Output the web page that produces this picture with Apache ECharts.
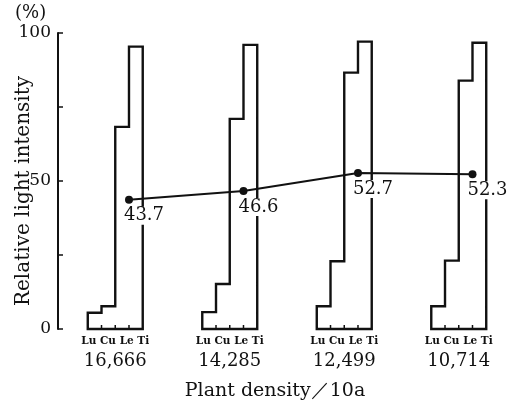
<!DOCTYPE html>
<html>
<head>
<meta charset="utf-8">
<script src="https://cdn.jsdelivr.net/npm/echarts@6/dist/echarts.min.js"></script>
<style>
  html, body { margin: 0; padding: 0; background: #fff; }
  #chart { width: 516px; height: 408px; }
</style>
</head>
<body>
<div id="chart"></div>
<script>
// plant density per 10a (x categories)
const densities = ['16,666', '14,285', '12,499', '10,714'];
// layer names under each group
const layers = ['Lu', 'Cu', 'Le', 'Ti'];
// relative light intensity (%) at each layer, per density
const luValues = [5.5, 5.7, 7.7, 7.7];
const cuValues = [7.7, 15.2, 22.9, 23.1];
const leValues = [68.3, 71.0, 86.6, 83.9];
const tiValues = [95.4, 96.0, 97.1, 96.7];
// line values
const meanValues = [43.7, 46.6, 52.7, 52.3];
const yTicks = [0, 25, 50, 75, 100];

const serif = '"DejaVu Serif", "Liberation Serif", serif';
const barUnit = 0.12; // width of one layer bar, in category units
const ink = '#111';

const stepData = densities.map((d, i) => [i, luValues[i], cuValues[i], leValues[i], tiValues[i]]);

function renderSteps(params, api) {
  const g = api.value(0);
  const vals = [api.value(1), api.value(2), api.value(3), api.value(4)];
  const edge = (k) => g + (k - 2) * barUnit;
  const pts = [api.coord([edge(0), 0])];
  for (let k = 0; k < 4; k += 1) {
    pts.push(api.coord([edge(k), vals[k]]));
    pts.push(api.coord([edge(k + 1), vals[k]]));
  }
  pts.push(api.coord([edge(4), 0]));
  const children = [{
    type: 'polygon',
    shape: { points: pts },
    style: { fill: 'none', stroke: ink, lineWidth: 2.4 },
  }];
  // little marks on the floor between layers
  for (let k = 1; k < 4; k += 1) {
    const p = api.coord([edge(k), 0]);
    children.push({
      type: 'line',
      shape: { x1: p[0], y1: p[1], x2: p[0], y2: p[1] - 4 },
      style: { stroke: ink, lineWidth: 1.5 },
    });
  }
  return { type: 'group', children };
}

const chart = echarts.init(document.getElementById('chart'));
chart.setOption({
  animation: false,
  backgroundColor: '#fff',
  grid: { left: 58, top: 33, width: 466, bottom: 79 },
  xAxis: [{
    type: 'category',
    data: densities,
    axisLine: { show: false },
    axisTick: { show: false },
    axisLabel: {
      margin: 5,
      formatter: (v) => '{a|' + layers.join(' ') + '}\n{b|' + v + '}',
      rich: {
        a: { fontFamily: serif, fontWeight: 'bold', fontSize: 10.5, lineHeight: 14, color: ink },
        b: { fontFamily: serif, fontSize: 18, lineHeight: 26, color: ink },
      },
    },
  }, {
    type: 'value',
    min: -0.5,
    max: 3.5,
    show: false,
  }],
  yAxis: {
    type: 'value',
    min: 0,
    max: 100,
    interval: 25,
    splitLine: { show: false },
    axisLine: { show: true, onZero: false, lineStyle: { color: ink, width: 2 } },
    axisTick: { inside: true, length: 5, lineStyle: { color: ink, width: 1.5 } },
    axisLabel: {
      margin: 7,
      fontFamily: serif,
      fontSize: 17,
      color: ink,
      formatter: (v) => (v % 50 === 0 ? String(v) : ''),
    },
  },
  graphic: [{
    type: 'text',
    left: 15,
    top: 4,
    style: { text: '(%)', fontFamily: serif, fontSize: 18, fill: ink },
  }, {
    type: 'text',
    x: 24,
    y: 191,
    rotation: Math.PI / 2,
    style: {
      text: 'Relative light intensity',
      fontFamily: serif,
      fontSize: 20,
      fill: ink,
      align: 'center',
      verticalAlign: 'middle',
    },
  }, {
    type: 'text',
    x: 275,
    y: 391,
    style: {
      text: 'Plant density／10a',
      fontFamily: serif,
      fontSize: 19,
      fill: ink,
      align: 'center',
      verticalAlign: 'middle',
    },
  }],
  series: [{
    type: 'custom',
    xAxisIndex: 1,
    renderItem: renderSteps,
    data: stepData,
    z: 2,
  }, {
    type: 'line',
    xAxisIndex: 1,
    data: meanValues.map((v, i) => [i + barUnit, v]),
    symbol: 'circle',
    symbolSize: 8,
    itemStyle: { color: ink },
    lineStyle: { color: ink, width: 2 },
    z: 3,
    label: {
      show: true,
      position: 'bottom',
      distance: 3,
      offset: [15, 0],
      formatter: (p) => p.value[1].toFixed(1),
      fontFamily: serif,
      fontSize: 18,
      color: ink,
      backgroundColor: '#fff',
      padding: [0, 1],
    },
  }],
});
</script>
</body>
</html>
